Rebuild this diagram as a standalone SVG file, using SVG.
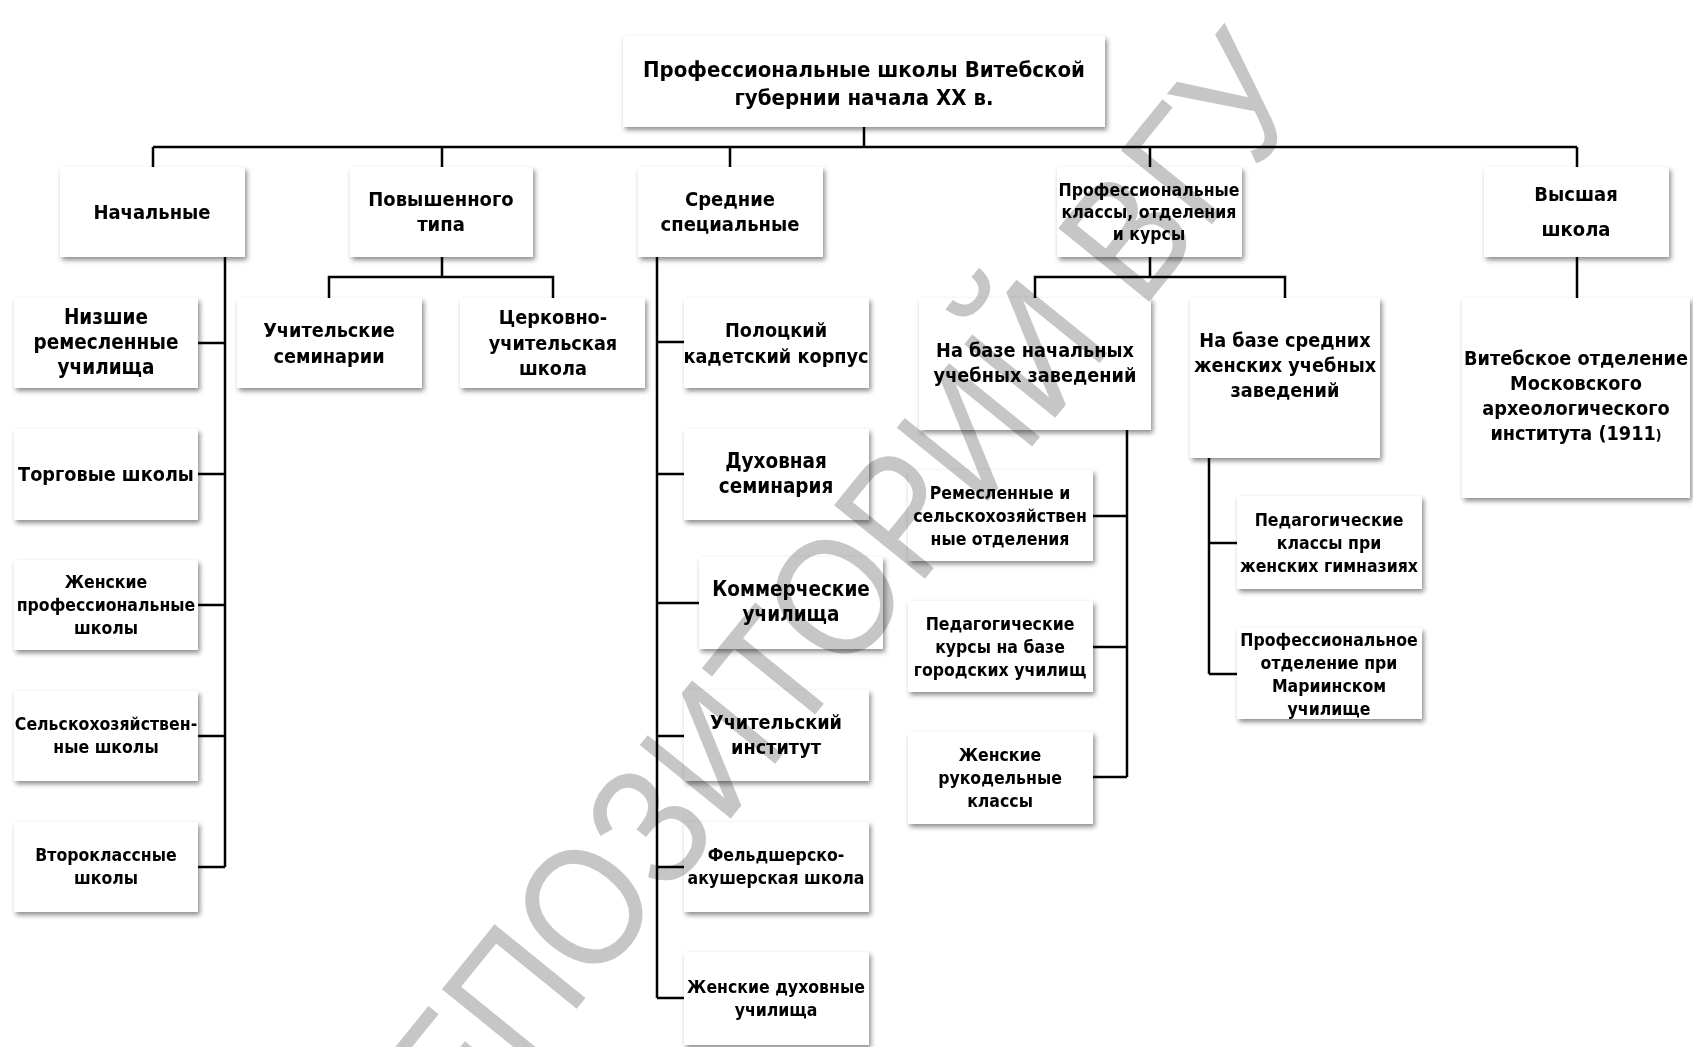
<svg xmlns="http://www.w3.org/2000/svg" width="1693" height="1047" viewBox="0 0 1693 1047">
<defs>
<filter id="sh" x="-10%" y="-10%" width="125%" height="135%">
<feDropShadow dx="2" dy="3" stdDeviation="2.5" flood-color="#000" flood-opacity="0.45"/>
</filter>
</defs>
<style>
rect.box{fill:#fff;filter:url(#sh)}
text{font-family:"DejaVu Sans Condensed","Liberation Sans",sans-serif;font-weight:700;fill:#000;text-anchor:middle}
.r{font-size:22px}
.a{font-size:20px}
.b{font-size:19.7px}
.bb{font-size:20.5px}
.c{font-size:17.5px}
#connectors path{fill:none;stroke:#000;stroke-width:2.5}
.wm{font-family:"Liberation Sans",sans-serif;font-weight:400;font-size:170px;fill:#c6c6c6;text-anchor:end;mix-blend-mode:multiply}
</style>
<rect width="1693" height="1047" fill="#fff"/>
<g id="connectors">
<path d="M864,127V147M153,147H1577M153,147V167M442,147V167M730,147V167M1150,147V167M1577,147V167"/>
<path d="M225,257V867M198,343H225M198,474H225M198,605H225M198,736H225M198,867H225"/>
<path d="M442,257V277M329,298V277H553V298"/>
<path d="M657,257V998M657,342H684M657,474H684M657,603H699M657,736H684M657,867H684M657,998H684"/>
<path d="M1150,257V277M1035,298V277H1285V298"/>
<path d="M1127,430V777M1093,516H1127M1093,647H1127M1093,777H1127"/>
<path d="M1209,458V674M1209,543H1237M1209,674H1237"/>
<path d="M1577,257V298"/>
</g>
<g id="root"><rect class="box" x="623" y="36" width="482" height="91"/><text class="r" x="864" y="77">Профессиональные школы Витебской</text><text class="r" x="864" y="105">губернии начала  XX в.</text></g>
<g id="n-nach"><rect class="box" x="60" y="167" width="185" height="90"/><text class="a" x="152" y="219">Начальные</text></g>
<g id="n-pov"><rect class="box" x="350" y="167" width="183" height="90"/><text class="a" x="441" y="206">Повышенного</text><text class="a" x="441" y="231">типа</text></g>
<g id="n-sred"><rect class="box" x="638" y="167" width="185" height="90"/><text class="a" x="730" y="206">Средние</text><text class="a" x="730" y="231">специальные</text></g>
<g id="n-prof"><rect class="box" x="1057" y="167" width="185" height="90"/><text class="c" x="1149" y="196">Профессиональные</text><text class="c" x="1149" y="218">классы, отделения</text><text class="c" x="1149" y="240">и курсы</text></g>
<g id="n-vys"><rect class="box" x="1484" y="167" width="185" height="90"/><text class="a" x="1576" y="201">Высшая</text><text class="a" x="1576" y="236">школа</text></g>
<g id="n-nizsh"><rect class="box" x="14" y="298" width="184" height="90"/><text class="bb" x="106" y="324">Низшие</text><text class="bb" x="106" y="349">ремесленные</text><text class="bb" x="106" y="374">училища</text></g>
<g id="n-torg"><rect class="box" x="14" y="429" width="184" height="91"/><text class="b" x="106" y="481">Торговые школы</text></g>
<g id="n-zhprof"><rect class="box" x="14" y="560" width="184" height="90"/><text class="c" x="106" y="588">Женские</text><text class="c" x="106" y="611">профессиональные</text><text class="c" x="106" y="634">школы</text></g>
<g id="n-selsk"><rect class="box" x="14" y="691" width="184" height="90"/><text class="c" x="106" y="730">Сельскохозяйствен-</text><text class="c" x="106" y="753">ные школы</text></g>
<g id="n-vtor"><rect class="box" x="14" y="822" width="184" height="90"/><text class="c" x="106" y="861">Второклассные</text><text class="c" x="106" y="884">школы</text></g>
<g id="n-uchsem"><rect class="box" x="237" y="298" width="185" height="90"/><text class="b" x="329" y="337">Учительские</text><text class="b" x="329" y="363">семинарии</text></g>
<g id="n-cerk"><rect class="box" x="460" y="298" width="185" height="90"/><text class="b" x="553" y="324">Церковно-</text><text class="b" x="553" y="350">учительская</text><text class="b" x="553" y="375">школа</text></g>
<g id="n-polock"><rect class="box" x="684" y="298" width="185" height="90"/><text class="b" x="776" y="337">Полоцкий</text><text class="b" x="776" y="363">кадетский корпус</text></g>
<g id="n-duh"><rect class="box" x="684" y="429" width="185" height="91"/><text class="bb" x="776" y="468">Духовная</text><text class="bb" x="776" y="493">семинария</text></g>
<g id="n-komm"><rect class="box" x="699" y="557" width="184" height="92"/><text class="bb" x="791" y="596">Коммерческие</text><text class="bb" x="791" y="621">училища</text></g>
<g id="n-uchinst"><rect class="box" x="684" y="690" width="185" height="91"/><text class="b" x="776" y="729">Учительский</text><text class="b" x="776" y="754">институт</text></g>
<g id="n-feld"><rect class="box" x="684" y="822" width="185" height="90"/><text class="c" x="776" y="861">Фельдшерско-</text><text class="c" x="776" y="884">акушерская школа</text></g>
<g id="n-zhduh"><rect class="box" x="684" y="952" width="185" height="93"/><text class="c" x="776" y="993">Женские духовные</text><text class="c" x="776" y="1016">училища</text></g>
<g id="n-bazanach"><rect class="box" x="919" y="298" width="232" height="132"/><text class="b" x="1035" y="357">На базе начальных</text><text class="b" x="1035" y="382">учебных заведений</text></g>
<g id="n-bazasred"><rect class="box" x="1190" y="298" width="190" height="160"/><text class="b" x="1285" y="347">На базе средних</text><text class="b" x="1285" y="372">женских учебных</text><text class="b" x="1285" y="397">заведений</text></g>
<g id="n-vit"><rect class="box" x="1462" y="298" width="228" height="200"/><text class="b" x="1576" y="365">Витебское отделение</text><text class="b" x="1576" y="390">Московского</text><text class="b" x="1576" y="415">археологического</text><text class="b" x="1576" y="440">института (1911<tspan font-size="14">)</tspan></text></g>
<g id="n-remesl"><rect class="box" x="908" y="470" width="185" height="91"/><text class="c" x="1000" y="499">Ремесленные и</text><text class="c" x="1000" y="522">сельскохозяйствен</text><text class="c" x="1000" y="545">ные отделения</text></g>
<g id="n-pedkurs"><rect class="box" x="908" y="601" width="185" height="91"/><text class="c" x="1000" y="630">Педагогические</text><text class="c" x="1000" y="653">курсы на базе</text><text class="c" x="1000" y="676">городских училищ</text></g>
<g id="n-zhruk"><rect class="box" x="908" y="732" width="185" height="92"/><text class="c" x="1000" y="761">Женские</text><text class="c" x="1000" y="784">рукодельные</text><text class="c" x="1000" y="807">классы</text></g>
<g id="n-pedkl"><rect class="box" x="1237" y="496" width="185" height="93"/><text class="c" x="1329" y="526">Педагогические</text><text class="c" x="1329" y="549">классы при</text><text class="c" x="1329" y="572">женских гимназиях</text></g>
<g id="n-profotd"><rect class="box" x="1237" y="628" width="185" height="91"/><text class="c" x="1329" y="646">Профессиональное</text><text class="c" x="1329" y="669">отделение при</text><text class="c" x="1329" y="692">Мариинском</text><text class="c" x="1329" y="715">училище</text></g>
<text class="wm" transform="translate(1315 97) rotate(-51) scale(0.88 1)">РЕПОЗИТОРИЙ ВГУ</text>
</svg>
